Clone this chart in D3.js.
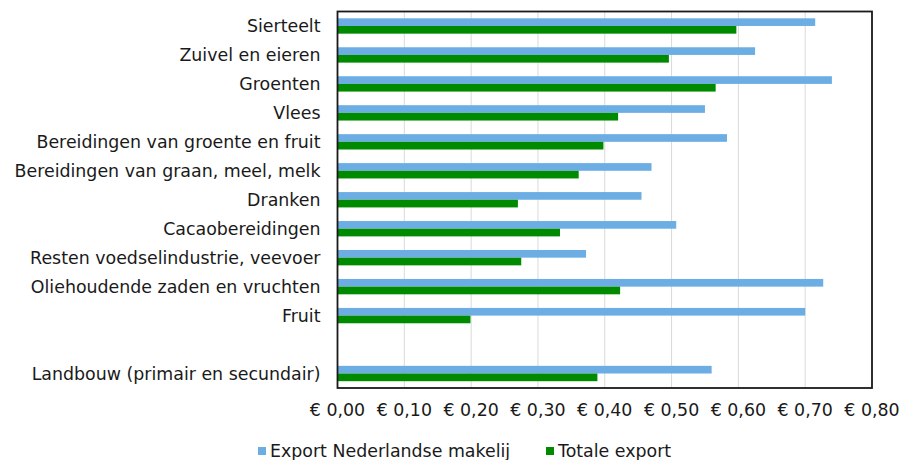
<!DOCTYPE html>
<html>
<head>
<meta charset="utf-8">
<script src="https://cdn.jsdelivr.net/npm/d3@7"></script>
<style>
  html, body { margin: 0; padding: 0; background: #fff; }
  svg { display: block; }
  text { font-family: "DejaVu Sans", Verdana, sans-serif; fill: #1a1a1a; }
</style>
</head>
<body>
<svg id="chart" width="903" height="460"></svg>
<script>
// Product groups, top to bottom; the empty entry leaves a gap before the total
const categories = [
  "Sierteelt",
  "Zuivel en eieren",
  "Groenten",
  "Vlees",
  "Bereidingen van groente en fruit",
  "Bereidingen van graan, meel, melk",
  "Dranken",
  "Cacaobereidingen",
  "Resten voedselindustrie, veevoer",
  "Oliehoudende zaden en vruchten",
  "Fruit",
  "",
  "Landbouw (primair en secundair)"
];

const seriesNames = ["Export Nederlandse makelij", "Totale export"];

// Euro per euro of export, per product group
const exportNL = [0.715, 0.625, 0.740, 0.550, 0.583, 0.470, 0.455, 0.507, 0.372, 0.727, 0.700, null, 0.560];
const totaleExport = [0.597, 0.496, 0.566, 0.420, 0.398, 0.361, 0.270, 0.333, 0.275, 0.423, 0.199, null, 0.389];

const tickValues = [0, 0.1, 0.2, 0.3, 0.4, 0.5, 0.6, 0.7, 0.8];

const colors = ["#6caee4", "#008a00"];

const svg = d3.select("#chart");
const plot = { left: 337.5, right: 872, top: 11.5, bottom: 388 };
const fontSize = 17.4;

const x = d3.scaleLinear().domain([0, 0.8]).range([plot.left, plot.right]);
const y = d3.scaleBand()
  .domain(categories.map((c, i) => i))
  .range([plot.top, plot.bottom])
  .paddingInner(0.47)
  .paddingOuter(0.235);
const ySub = d3.scaleBand().domain([0, 1]).range([0, y.bandwidth()]);

const fmt = v => "€ " + d3.format(".2f")(v).replace(".", ",");

// Vertical gridlines
svg.append("g")
  .selectAll("line")
  .data(tickValues)
  .join("line")
  .attr("x1", d => x(d)).attr("x2", d => x(d))
  .attr("y1", plot.top).attr("y2", plot.bottom)
  .attr("stroke", "#d9d9d9")
  .attr("stroke-width", 1);

// Bars
const rows = categories.map((c, i) => ({ i, values: [exportNL[i], totaleExport[i]] }));
const groups = svg.append("g")
  .selectAll("g")
  .data(rows)
  .join("g")
  .attr("transform", d => `translate(0,${y(d.i)})`);

groups.selectAll("rect")
  .data(d => d.values.map((v, s) => ({ v, s })).filter(e => e.v != null))
  .join("rect")
  .attr("x", x(0))
  .attr("y", d => ySub(d.s))
  .attr("width", d => x(d.v) - x(0))
  .attr("height", ySub.bandwidth())
  .attr("fill", d => colors[d.s]);

// Plot frame
svg.append("rect")
  .attr("x", plot.left).attr("y", plot.top)
  .attr("width", plot.right - plot.left)
  .attr("height", plot.bottom - plot.top)
  .attr("fill", "none")
  .attr("stroke", "#1a1a1a")
  .attr("stroke-width", 1.8);

// Category labels
svg.append("g")
  .selectAll("text")
  .data(categories.map((c, i) => ({ c, i })).filter(d => d.c))
  .join("text")
  .attr("x", plot.left - 17)
  .attr("y", d => y(d.i) + y.bandwidth() / 2)
  .attr("dy", "0.35em")
  .attr("text-anchor", "end")
  .attr("font-size", fontSize)
  .text(d => d.c);

// X tick labels
svg.append("g")
  .selectAll("text")
  .data(tickValues)
  .join("text")
  .attr("x", d => x(d))
  .attr("y", 410)
  .attr("dy", "0.35em")
  .attr("text-anchor", "middle")
  .attr("font-size", fontSize)
  .text(fmt);

// Legend
const legend = svg.append("g");
const legendX = [258, 546];
seriesNames.forEach((name, s) => {
  legend.append("rect")
    .attr("x", legendX[s]).attr("y", 447)
    .attr("width", 8).attr("height", 8)
    .attr("fill", colors[s]);
  legend.append("text")
    .attr("x", legendX[s] + 12)
    .attr("y", 451)
    .attr("dy", "0.35em")
    .attr("font-size", fontSize)
    .text(name);
});
</script>
</body>
</html>
